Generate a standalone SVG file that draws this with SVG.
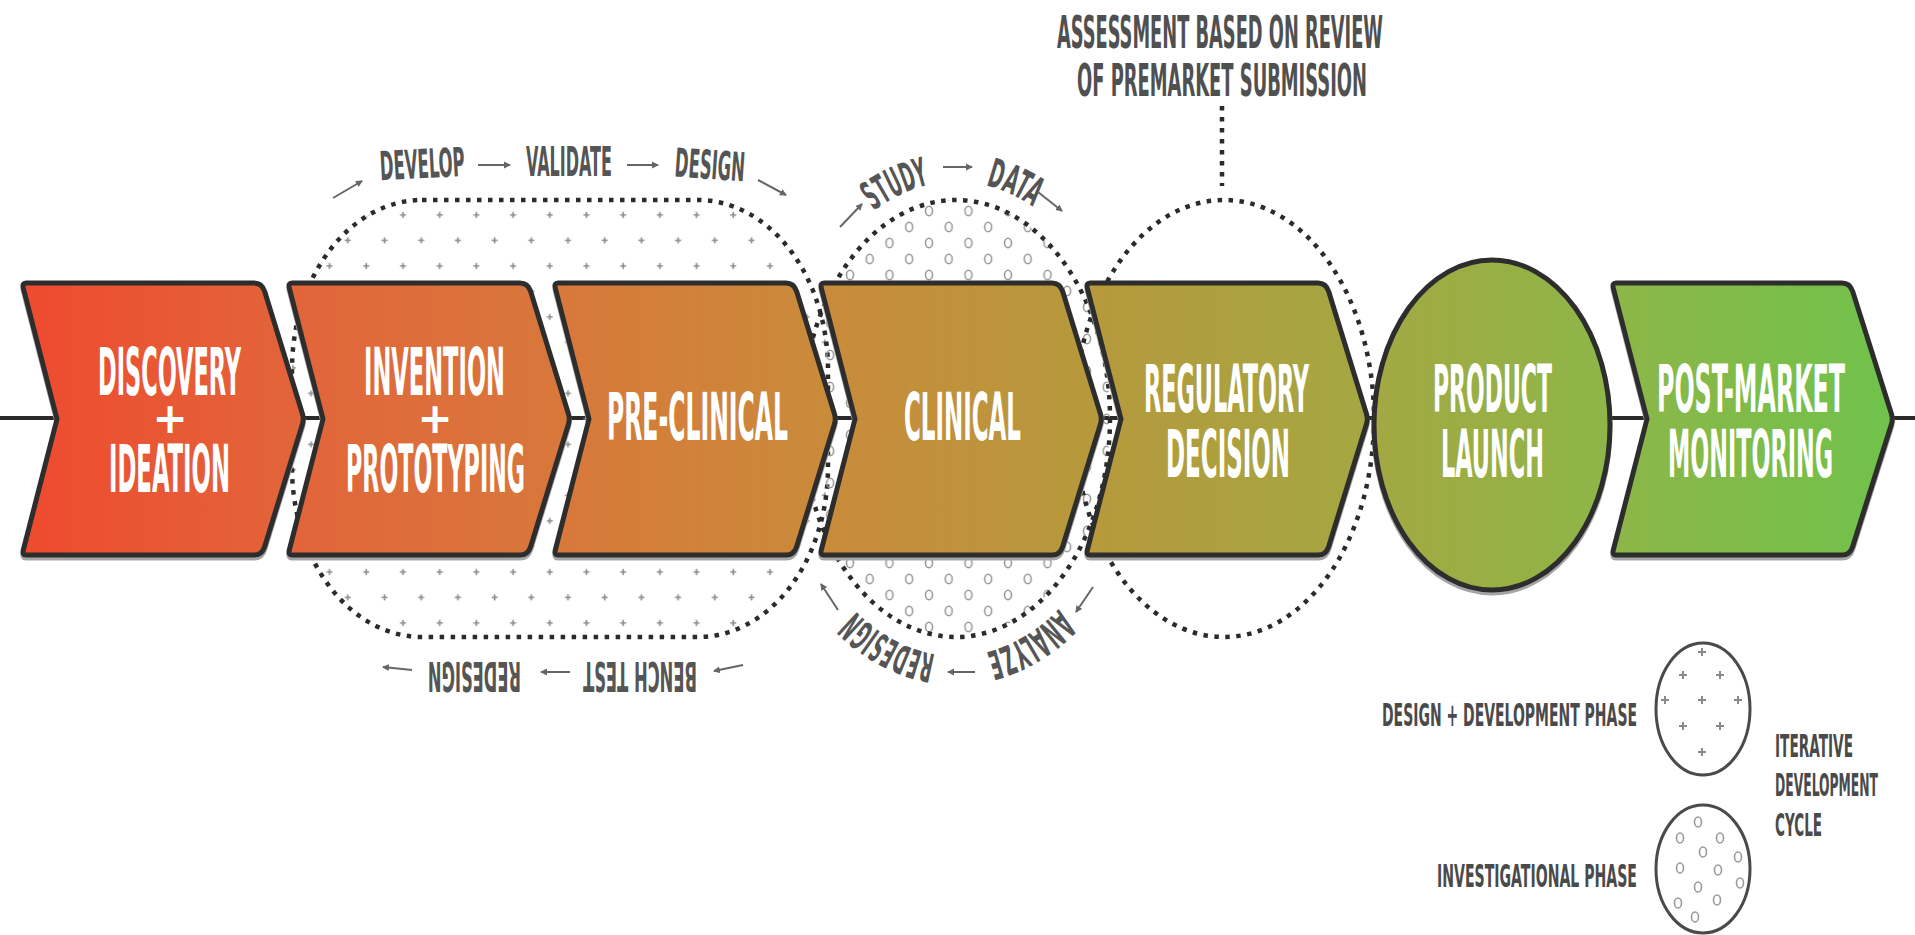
<svg xmlns="http://www.w3.org/2000/svg" xmlns:xlink="http://www.w3.org/1999/xlink" width="1915" height="935" viewBox="0 0 1915 935">
<defs>
<style>
.chev{fill:url(#grad);stroke:#2d2d2d;stroke-width:5;stroke-linejoin:round}
.shadow{fill:none;stroke:#a5a5a5;stroke-width:5;stroke-linejoin:round}
.lbl{fill:#ffffff;font-family:"DejaVu Sans Condensed","DejaVu Sans",sans-serif;font-weight:bold;font-size:66px;text-anchor:middle}
.plus{fill:#ffffff;font-family:"DejaVu Sans",sans-serif;font-weight:bold;font-size:42px;text-anchor:middle}
.ann{fill:#555555;font-family:"DejaVu Sans Condensed","DejaVu Sans",sans-serif;font-weight:bold;font-size:40px;text-anchor:middle}
.hdr{fill:#505050;font-family:"DejaVu Sans Condensed","DejaVu Sans",sans-serif;font-weight:bold;font-size:45px;text-anchor:middle}
.leg{fill:#4a4a4a;font-family:"DejaVu Sans Condensed","DejaVu Sans",sans-serif;font-weight:bold;font-size:32px}
.dots{fill:none;stroke:#2b2b2b;stroke-width:4.5;stroke-dasharray:4.5 6.5}
.arr{stroke:#666666;stroke-width:2;fill:none;marker-end:url(#ah)}
.lc{fill:none;stroke:#4a4a4a;stroke-width:3}
.pm{stroke:#8a8a8a;stroke-width:2;fill:none}
.om{stroke:#999999;stroke-width:1.6;fill:none}
</style>
<linearGradient id="grad" gradientUnits="userSpaceOnUse" x1="22" y1="0" x2="1895" y2="0">
<stop offset="0" stop-color="#ef4a2f"/>
<stop offset="0.148" stop-color="#e2653a"/>
<stop offset="0.287" stop-color="#d8783b"/>
<stop offset="0.431" stop-color="#c98b3a"/>
<stop offset="0.57" stop-color="#b6993c"/>
<stop offset="0.72" stop-color="#a4a842"/>
<stop offset="0.848" stop-color="#8db648"/>
<stop offset="1" stop-color="#70c24b"/>
</linearGradient>
<marker id="ah" markerWidth="9" markerHeight="9" refX="6" refY="4" orient="auto" markerUnits="userSpaceOnUse">
<path d="M0 0.5 L7 4 L0 7.5 Z" fill="#666666"/>
</marker>
<pattern id="plusPat" patternUnits="userSpaceOnUse" x="393.8" y="202.2" width="36.7" height="51">
<path d="M6.2 12.75h6M9.2 9.75v6M24.4 38.25h6M27.4 35.25v6" stroke="#8e8e8e" stroke-width="1.7" fill="none"/>
</pattern>
<pattern id="oPat" patternUnits="userSpaceOnUse" x="840.1" y="555" width="39.5" height="32">
<ellipse cx="9.9" cy="8" rx="3.5" ry="4.8" stroke="#999999" stroke-width="1.6" fill="none"/>
<ellipse cx="29.6" cy="24" rx="3.5" ry="4.8" stroke="#999999" stroke-width="1.6" fill="none"/>
</pattern>
<path id="pm" d="M-4 0H4M0 -4V4"/>
<ellipse id="om" cx="0" cy="0" rx="3.5" ry="5"/>
<path id="arcTop" d="M784 418 A172 236 0 0 1 1128 418"/>
<path id="arcBot" d="M1128 418 A172 238 0 0 1 784 418"/>
<path id="g1" d="M26 283 L254 283 Q262 283 264.7 291.6 L302.5 414 Q304 419 302.5 424 L264.7 546.4 Q262 555 254 555 L26 555 Q22 555 23.3 550 L57 419 L23.3 288 Q22 283 26 283 Z"/>
<path id="g2" d="M292 283 L520 283 Q528 283 530.7 291.6 L568.5 414 Q570 419 568.5 424 L530.7 546.4 Q528 555 520 555 L292 555 Q288 555 289.3 550 L323 419 L289.3 288 Q288 283 292 283 Z"/>
<path id="g3" d="M558 283 L786 283 Q794 283 796.7 291.6 L834.5 414 Q836 419 834.5 424 L796.7 546.4 Q794 555 786 555 L558 555 Q554 555 555.3 550 L589 419 L555.3 288 Q554 283 558 283 Z"/>
<path id="g4" d="M824 283 L1052 283 Q1060 283 1062.7 291.6 L1100.5 414 Q1102 419 1100.5 424 L1062.7 546.4 Q1060 555 1052 555 L824 555 Q820 555 821.3 550 L855 419 L821.3 288 Q820 283 824 283 Z"/>
<path id="g5" d="M1090 283 L1318 283 Q1326 283 1328.7 291.6 L1366.5 414 Q1368 419 1366.5 424 L1328.7 546.4 Q1326 555 1318 555 L1090 555 Q1086 555 1087.3 550 L1121 419 L1087.3 288 Q1086 283 1090 283 Z"/>
<ellipse id="g6" cx="1492" cy="425" rx="118" ry="165"/>
<path id="g7" d="M1616 283 L1842 283 Q1850 283 1852.7 291.6 L1891.5 414 Q1893 419 1891.5 424 L1852.7 546.4 Q1850 555 1842 555 L1616 555 Q1612 555 1613.3 550 L1647 419 L1613.3 288 Q1612 283 1616 283 Z"/>
</defs>

<rect x="0" y="0" width="1915" height="935" fill="#ffffff"/>

<g id="connectors">
<line x1="0" y1="418" x2="1915" y2="418" stroke="#2a2a2a" stroke-width="4"/>
</g>

<g id="phase-regions">
<path id="design-development-region" class="dots" style="fill:url(#plusPat)" d="M422 200 L698 200 A130 170 0 0 1 828 370 L828 467 A130 170 0 0 1 698 637 L422 637 A130 170 0 0 1 292 467 L292 370 A130 170 0 0 1 422 200 Z"/>
<ellipse id="investigational-region" class="dots" style="fill:url(#oPat)" cx="956" cy="418.5" rx="154" ry="218.5"/>
<ellipse id="regulatory-region" class="dots" cx="1224" cy="418.5" rx="150" ry="218.5"/>
<line class="dots" x1="1222" y1="106" x2="1222" y2="186"/>
</g>

<g id="node-discovery">
<use href="#g1" class="shadow" transform="translate(0,3)"/>
<use href="#g1" class="chev"/>
<text class="lbl" x="169.5" y="395" textLength="143" lengthAdjust="spacingAndGlyphs">DISCOVERY</text>
<text class="plus" x="170" y="433">+</text>
<text class="lbl" x="169.5" y="492" textLength="121" lengthAdjust="spacingAndGlyphs">IDEATION</text>
</g>

<g id="node-invention">
<use href="#g2" class="shadow" transform="translate(0,3)"/>
<use href="#g2" class="chev"/>
<text class="lbl" x="434.5" y="395" textLength="141" lengthAdjust="spacingAndGlyphs">INVENTION</text>
<text class="plus" x="435" y="433">+</text>
<text class="lbl" x="435.5" y="492" textLength="179" lengthAdjust="spacingAndGlyphs">PROTOTYPING</text>
</g>

<g id="node-preclinical">
<use href="#g3" class="shadow" transform="translate(0,3)"/>
<use href="#g3" class="chev"/>
<text class="lbl" x="697.5" y="440" textLength="181" lengthAdjust="spacingAndGlyphs">PRE-CLINICAL</text>
</g>

<g id="node-clinical">
<use href="#g4" class="shadow" transform="translate(0,3)"/>
<use href="#g4" class="chev"/>
<text class="lbl" x="962.5" y="440" textLength="117" lengthAdjust="spacingAndGlyphs">CLINICAL</text>
</g>

<g id="node-regulatory">
<use href="#g5" class="shadow" transform="translate(0,3)"/>
<use href="#g5" class="chev"/>
<text class="lbl" x="1226.5" y="412" textLength="165" lengthAdjust="spacingAndGlyphs">REGULATORY</text>
<text class="lbl" x="1228" y="477" textLength="124" lengthAdjust="spacingAndGlyphs">DECISION</text>
</g>

<g id="node-launch">
<use href="#g6" class="shadow" transform="translate(0,3)"/>
<use href="#g6" class="chev"/>
<text class="lbl" x="1492.5" y="412" textLength="119" lengthAdjust="spacingAndGlyphs">PRODUCT</text>
<text class="lbl" x="1492.5" y="477" textLength="103" lengthAdjust="spacingAndGlyphs">LAUNCH</text>
</g>

<g id="node-postmarket">
<use href="#g7" class="shadow" transform="translate(0,3)"/>
<use href="#g7" class="chev"/>
<text class="lbl" x="1751" y="412" textLength="188" lengthAdjust="spacingAndGlyphs">POST-MARKET</text>
<text class="lbl" x="1750.5" y="477" textLength="165" lengthAdjust="spacingAndGlyphs">MONITORING</text>
</g>

<g id="annotation-design-cycle">
<line class="arr" x1="333" y1="198" x2="362" y2="181"/>
<text class="ann" transform="translate(423,178) rotate(-3)" textLength="85" lengthAdjust="spacingAndGlyphs">DEVELOP</text>
<line class="arr" x1="478" y1="165" x2="510" y2="165"/>
<text class="ann" x="569" y="176" textLength="86" lengthAdjust="spacingAndGlyphs">VALIDATE</text>
<line class="arr" x1="627" y1="165" x2="658" y2="165"/>
<text class="ann" transform="translate(709,179) rotate(4)" textLength="70" lengthAdjust="spacingAndGlyphs">DESIGN</text>
<line class="arr" x1="758" y1="180" x2="786" y2="195"/>
<text class="ann" transform="translate(640,662) rotate(180)" textLength="114" lengthAdjust="spacingAndGlyphs">BENCH TEST</text>
<text class="ann" transform="translate(474.5,662) rotate(180)" textLength="93" lengthAdjust="spacingAndGlyphs">REDESIGN</text>
<line class="arr" x1="743" y1="665" x2="714" y2="671"/>
<line class="arr" x1="570" y1="672" x2="541" y2="672"/>
<line class="arr" x1="412" y1="670" x2="383" y2="667"/>
</g>

<g id="annotation-investigational-cycle">
<line class="arr" x1="840" y1="227" x2="862" y2="204"/>
<text class="ann"><textPath href="#arcTop" startOffset="41%" textLength="62" lengthAdjust="spacingAndGlyphs">STUDY</textPath></text>
<line class="arr" x1="943" y1="167" x2="972" y2="167"/>
<text class="ann"><textPath href="#arcTop" startOffset="58.7%" textLength="52" lengthAdjust="spacingAndGlyphs">DATA</textPath></text>
<line class="arr" x1="1038" y1="192" x2="1062" y2="211"/>
<line class="arr" x1="1093" y1="587" x2="1076" y2="612"/>
<text class="ann"><textPath href="#arcBot" startOffset="38.7%" textLength="86" lengthAdjust="spacingAndGlyphs">ANALYZE</textPath></text>
<line class="arr" x1="975" y1="672" x2="948" y2="672"/>
<text class="ann"><textPath href="#arcBot" startOffset="60.3%" textLength="92" lengthAdjust="spacingAndGlyphs">REDESIGN</textPath></text>
<line class="arr" x1="838" y1="610" x2="821" y2="584"/>
</g>

<g id="annotation-assessment">
<text class="hdr" x="1220" y="48" textLength="326" lengthAdjust="spacingAndGlyphs">ASSESSMENT BASED ON REVIEW</text>
<text class="hdr" x="1222" y="96" textLength="290" lengthAdjust="spacingAndGlyphs">OF PREMARKET SUBMISSION</text>
</g>

<g id="legend">
<ellipse class="lc" cx="1703" cy="709" rx="47" ry="66"/>
<g class="pm">
<use href="#pm" x="1702" y="652"/><use href="#pm" x="1683" y="675"/><use href="#pm" x="1720" y="675"/>
<use href="#pm" x="1665" y="700"/><use href="#pm" x="1702" y="700"/><use href="#pm" x="1738" y="700"/>
<use href="#pm" x="1683" y="726"/><use href="#pm" x="1720" y="726"/><use href="#pm" x="1702" y="752"/>
</g>
<ellipse class="lc" cx="1703" cy="869" rx="47" ry="64"/>
<g class="om">
<use href="#om" x="1698" y="822"/><use href="#om" x="1680" y="838"/><use href="#om" x="1720" y="838"/>
<use href="#om" x="1703" y="852"/><use href="#om" x="1738" y="857"/><use href="#om" x="1680" y="868"/>
<use href="#om" x="1718" y="870"/><use href="#om" x="1698" y="887"/><use href="#om" x="1740" y="883"/>
<use href="#om" x="1678" y="903"/><use href="#om" x="1717" y="900"/><use href="#om" x="1695" y="917"/>
</g>
<text class="leg" x="1637" y="726" text-anchor="end" textLength="255" lengthAdjust="spacingAndGlyphs">DESIGN + DEVELOPMENT PHASE</text>
<text class="leg" x="1637" y="887" text-anchor="end" textLength="200" lengthAdjust="spacingAndGlyphs">INVESTIGATIONAL PHASE</text>
<text class="leg" x="1775" y="757" textLength="78" lengthAdjust="spacingAndGlyphs">ITERATIVE</text>
<text class="leg" x="1775" y="796" textLength="103" lengthAdjust="spacingAndGlyphs">DEVELOPMENT</text>
<text class="leg" x="1775" y="836" textLength="47" lengthAdjust="spacingAndGlyphs">CYCLE</text>
</g>
</svg>
